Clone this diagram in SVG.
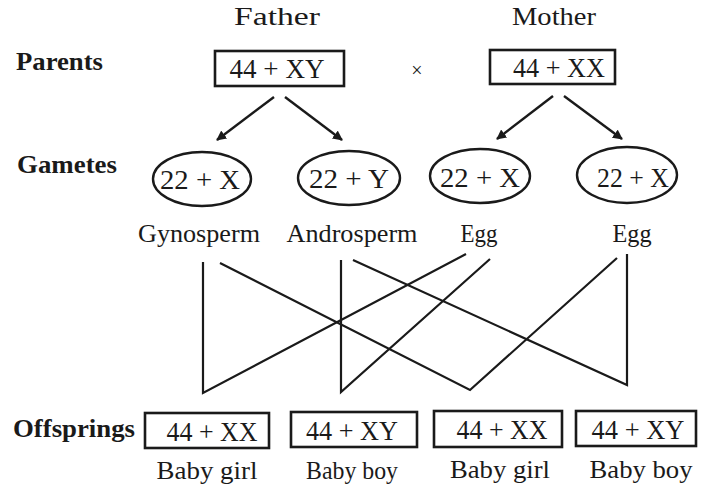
<svg xmlns="http://www.w3.org/2000/svg" width="701" height="490" viewBox="0 0 701 490">
<style>
text{font-family:"Liberation Serif","Times New Roman",serif;fill:#1a1a1a}
.lbl{font-size:26px;font-weight:bold}
.t{font-size:26px}
.n{font-size:28px}
.box{fill:none;stroke:#1a1a1a;stroke-width:2.6}
.ell{fill:none;stroke:#1a1a1a;stroke-width:2.4}
.ln{fill:none;stroke:#1a1a1a;stroke-width:2.2;stroke-linejoin:miter}
.arr{stroke:#1a1a1a;stroke-width:2.4;marker-end:url(#ah)}
</style>
<defs>
<marker id="ah" viewBox="0 0 10 10" refX="9" refY="5" markerWidth="10" markerHeight="10" markerUnits="userSpaceOnUse" orient="auto">
<path d="M0,0 L10,5 L0,10 Z" fill="#1a1a1a"/>
</marker>
</defs>
<rect width="701" height="490" fill="#fff"/>

<g id="row-labels">
<text class="lbl" x="16" y="70" textLength="87" lengthAdjust="spacingAndGlyphs">Parents</text>
<text class="lbl" x="17" y="173" textLength="100" lengthAdjust="spacingAndGlyphs">Gametes</text>
<text class="lbl" x="13" y="437" textLength="122" lengthAdjust="spacingAndGlyphs">Offsprings</text>
</g>

<g id="father">
<text class="t" x="277" y="25" text-anchor="middle" textLength="86" lengthAdjust="spacingAndGlyphs">Father</text>
<rect class="box" x="215" y="51" width="129" height="35"/>
<text class="n" x="277" y="78" text-anchor="middle" textLength="95" lengthAdjust="spacingAndGlyphs">44 + XY</text>
</g>
<g id="cross"><text x="417" y="77" text-anchor="middle" style="font-size:20px">×</text></g>
<g id="mother">
<text class="t" x="554" y="25" text-anchor="middle" textLength="84" lengthAdjust="spacingAndGlyphs">Mother</text>
<rect class="box" x="490" y="50" width="125" height="34"/>
<text class="n" x="559" y="77" text-anchor="middle" textLength="92" lengthAdjust="spacingAndGlyphs">44 + XX</text>
</g>

<g id="gynosperm">
<ellipse class="ell" cx="202" cy="179" rx="49" ry="27"/>
<text class="n" x="200" y="189" text-anchor="middle" textLength="80" lengthAdjust="spacingAndGlyphs">22 + X</text>
<text class="t" x="199" y="242" text-anchor="middle" textLength="122" lengthAdjust="spacingAndGlyphs">Gynosperm</text>
</g>
<g id="androsperm">
<ellipse class="ell" cx="349" cy="178" rx="51" ry="27"/>
<text class="n" x="349" y="188" text-anchor="middle" textLength="80" lengthAdjust="spacingAndGlyphs">22 + Y</text>
<text class="t" x="352" y="242" text-anchor="middle" textLength="131" lengthAdjust="spacingAndGlyphs">Androsperm</text>
</g>
<g id="egg1">
<ellipse class="ell" cx="480" cy="176" rx="50" ry="27"/>
<text class="n" x="480" y="187" text-anchor="middle" textLength="80" lengthAdjust="spacingAndGlyphs">22 + X</text>
<text class="t" x="479" y="242" text-anchor="middle" textLength="37" lengthAdjust="spacingAndGlyphs">Egg</text>
</g>
<g id="egg2">
<ellipse class="ell" cx="627" cy="175" rx="50" ry="28"/>
<text class="n" x="633" y="187" text-anchor="middle" textLength="72" lengthAdjust="spacingAndGlyphs">22 + X</text>
<text class="t" x="632" y="242" text-anchor="middle" textLength="39" lengthAdjust="spacingAndGlyphs">Egg</text>
</g>

<g id="off1">
<rect class="box" x="145" y="413" width="124" height="35"/>
<text class="n" x="212" y="441" text-anchor="middle" textLength="91" lengthAdjust="spacingAndGlyphs">44 + XX</text>
<text class="t" x="207" y="479" text-anchor="middle" textLength="101" lengthAdjust="spacingAndGlyphs">Baby girl</text>
</g>
<g id="off2">
<rect class="box" x="291" y="412" width="126" height="35"/>
<text class="n" x="352" y="440" text-anchor="middle" textLength="92" lengthAdjust="spacingAndGlyphs">44 + XY</text>
<text class="t" x="352" y="479" text-anchor="middle" textLength="92" lengthAdjust="spacingAndGlyphs">Baby boy</text>
</g>
<g id="off3">
<rect class="box" x="434" y="411" width="128" height="36"/>
<text class="n" x="502" y="439" text-anchor="middle" textLength="91" lengthAdjust="spacingAndGlyphs">44 + XX</text>
<text class="t" x="500" y="478" text-anchor="middle" textLength="100" lengthAdjust="spacingAndGlyphs">Baby girl</text>
</g>
<g id="off4">
<rect class="box" x="576" y="411" width="120" height="35"/>
<text class="n" x="638" y="439" text-anchor="middle" textLength="93" lengthAdjust="spacingAndGlyphs">44 + XY</text>
<text class="t" x="641" y="478" text-anchor="middle" textLength="103" lengthAdjust="spacingAndGlyphs">Baby boy</text>
</g>

<g id="connectors">
<line class="arr" x1="274" y1="97" x2="217" y2="140"/>
<line class="arr" x1="285" y1="97" x2="342" y2="140"/>
<line class="arr" x1="553" y1="96" x2="497" y2="139"/>
<line class="arr" x1="564" y1="96" x2="622" y2="139"/>
<path class="ln" d="M203,262 L203,393 L466,254"/>
<path class="ln" d="M220,263 L470,390 L617,258"/>
<path class="ln" d="M341,260 L341,392 L490,259"/>
<path class="ln" d="M353,260 L627,385 L627,254"/>
</g>
</svg>
